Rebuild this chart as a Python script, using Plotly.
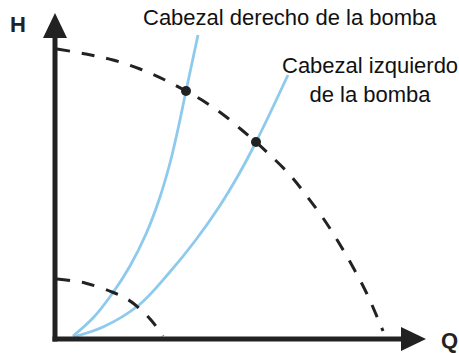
import plotly.graph_objects as go

# values (Q = flow, H = head, arbitrary units)
pump_big_q = [2, 31, 58, 85, 110, 131, 150, 170, 188, 201, 215, 235, 251, 268, 284, 299, 312, 323, 328]
pump_big_h = [290, 285, 279, 270, 259, 248, 237, 223, 208, 197, 184, 164, 144, 121, 96, 70, 45, 20, 8]

pump_small_q = [2, 30, 57, 72, 84, 96, 108]
pump_small_h = [60, 56, 47, 40, 31, 19, 3]

sys_right_q = [18, 38, 57, 75, 91, 104, 115, 123, 131, 143]
sys_right_h = [3, 21, 45, 73, 105, 139, 176, 210, 248, 304]

sys_left_q = [18, 48, 84, 114, 140, 164, 184, 201, 217, 233]
sys_left_h = [2, 12, 34, 66, 98, 132, 165, 197, 230, 264]

op_q = [131, 201]
op_h = [248, 197]

label_right = "Cabezal derecho de la bomba"
label_left = "Cabezal izquierdo<br>de la bomba"

BLUE = "#8ecaee"
INK = "#222222"
FONT = "Liberation Sans, Arial, sans-serif"

fig = go.Figure()

for q, h in [(sys_right_q, sys_right_h), (sys_left_q, sys_left_h)]:
    fig.add_trace(go.Scatter(x=q, y=h, mode="lines", line=dict(color=BLUE, width=2.8, shape="spline"),
                             hoverinfo="skip", showlegend=False))

for q, h in [(pump_big_q, pump_big_h), (pump_small_q, pump_small_h)]:
    fig.add_trace(go.Scatter(x=q, y=h, mode="lines",
                             line=dict(color=INK, width=3, dash="13px,12px", shape="spline"),
                             hoverinfo="skip", showlegend=False))

fig.add_trace(go.Scatter(x=op_q, y=op_h, mode="markers", marker=dict(color=INK, size=10),
                         hoverinfo="skip", showlegend=False))

# axes drawn as arrows
q_end, h_end = 371, 326
head = 25
fig.add_shape(type="line", x0=-2.5, y0=0, x1=q_end - head, y1=0, line=dict(color=INK, width=5))
fig.add_shape(type="line", x0=0, y0=-2.5, x1=0, y1=h_end - head, line=dict(color=INK, width=5))
fig.add_shape(type="path", path=f"M{q_end - head},-12 L{q_end},0 L{q_end - head},12 Z",
              fillcolor=INK, line=dict(width=0))
fig.add_shape(type="path", path=f"M-12,{h_end - head} L0,{h_end} L12,{h_end - head} Z",
              fillcolor=INK, line=dict(width=0))

fig.add_annotation(x=-37, y=315, text="<b>H</b>", showarrow=False, font=dict(size=22, color=INK, family=FONT))
fig.add_annotation(x=394, y=-1, text="<b>Q</b>", showarrow=False, font=dict(size=22, color=INK, family=FONT))
fig.add_annotation(x=235, y=322, text=label_right, showarrow=False,
                   font=dict(size=22, color="#111111", family=FONT))
fig.add_annotation(x=315, y=259, text=label_left, showarrow=False, align="center",
                   font=dict(size=22, color="#111111", family=FONT))

fig.update_xaxes(range=[-55, 404], visible=False, fixedrange=True)
fig.update_yaxes(range=[-14, 339], visible=False, fixedrange=True)
fig.update_layout(
    width=459,
    height=353,
    margin=dict(l=0, r=0, t=0, b=0),
    plot_bgcolor="white",
    paper_bgcolor="white",
)

fig.write_html("out.html", config={"displayModeBar": False},
               post_script="document.body.style.margin='0';document.body.style.overflow='hidden';")
